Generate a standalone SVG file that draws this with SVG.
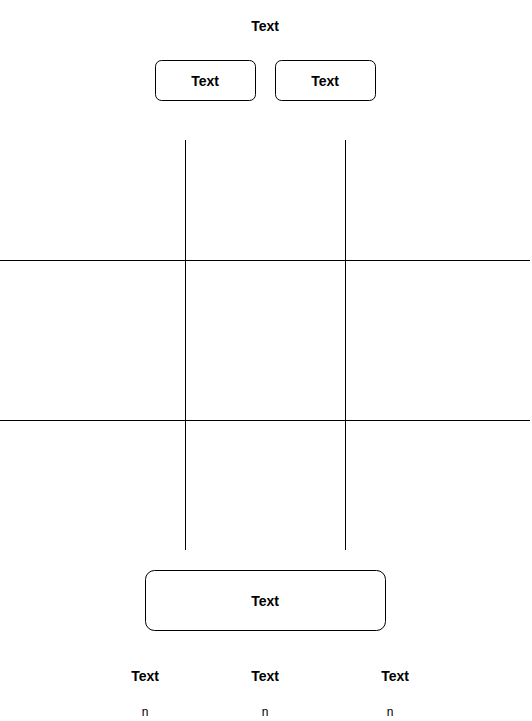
<svg xmlns="http://www.w3.org/2000/svg" width="532" height="721" viewBox="0 0 532 721">
<style>
.box{fill:#fff;stroke:#000;stroke-width:1}
.ln{stroke:#000;stroke-width:1;fill:none}
.b{font-family:"Liberation Sans",Arial,sans-serif;font-size:14px;font-weight:bold;text-anchor:middle;fill:#000}
.n{font-family:"Liberation Sans",Arial,sans-serif;font-size:12px;text-anchor:middle;fill:#000}
</style>
<rect width="532" height="721" fill="#fff"/>
<g id="connectors">
<path class="ln" d="M185.5 140V550"/>
<path class="ln" d="M345.5 140V550"/>
<path class="ln" d="M0 260.5H530"/>
<path class="ln" d="M0 420.5H530"/>
</g>
<g id="title"><text class="b" x="265" y="31">Text</text></g>
<g id="box1"><rect class="box" x="155.5" y="60.5" width="100" height="40" rx="6"/><text class="b" x="205" y="86">Text</text></g>
<g id="box2"><rect class="box" x="275.5" y="60.5" width="100" height="40" rx="6"/><text class="b" x="325" y="86">Text</text></g>
<g id="box3"><rect class="box" x="145.5" y="570.5" width="240" height="60" rx="9"/><text class="b" x="265" y="606">Text</text></g>
<g id="label1"><text class="b" x="145" y="681">Text</text><text class="n" x="145" y="716">n</text></g>
<g id="label2"><text class="b" x="265" y="681">Text</text><text class="n" x="265" y="716">n</text></g>
<g id="label3"><text class="b" x="395" y="681">Text</text><text class="n" x="390" y="716">n</text></g>
</svg>
